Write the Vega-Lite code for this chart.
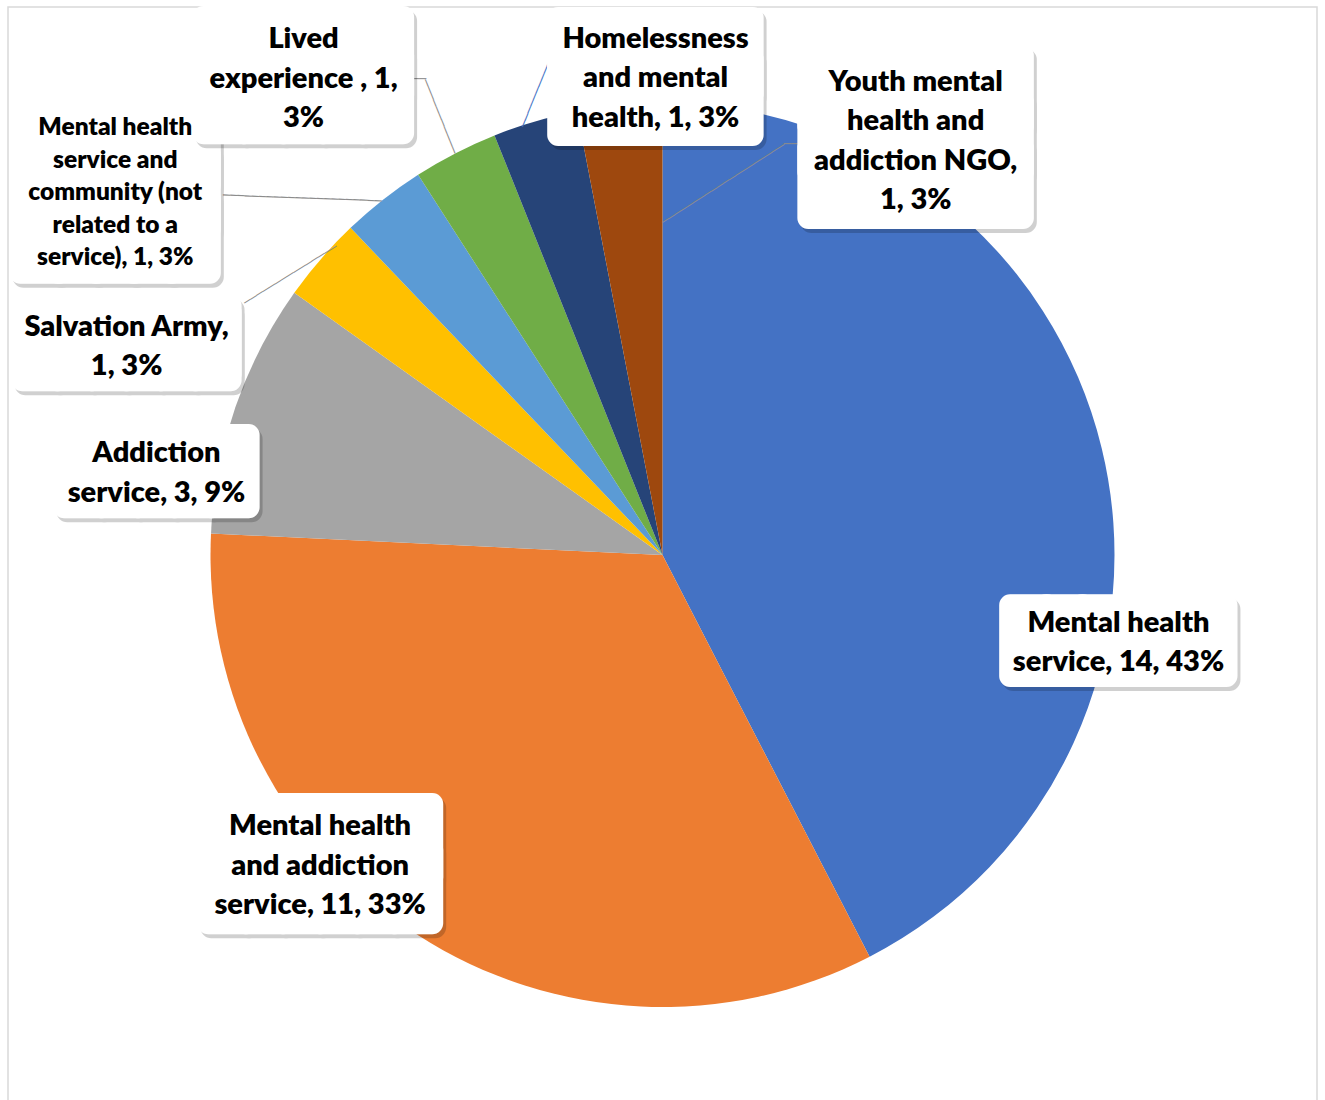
{
  "$schema": "https://vega.github.io/schema/vega-lite/v6.json",
  "width": 1309,
  "height": 1096,
  "autosize": {"type": "none"},
  "padding": {"left": 8, "top": 7, "right": 8, "bottom": 0},
  "background": "white",
  "view": {"stroke": "#d9d9d9", "strokeWidth": 1.5},
  "data": {
    "values": [
      {"rank": 1, "cat": "Mental health service", "count": 14, "pct": "43%", "label": "Mental health\nservice, 14, 43%"},
      {"rank": 2, "cat": "Mental health and addiction service", "count": 11, "pct": "33%", "label": "Mental health\nand addiction\nservice, 11, 33%"},
      {"rank": 3, "cat": "Addiction service", "count": 3, "pct": "9%", "label": "Addiction\nservice, 3, 9%"},
      {"rank": 4, "cat": "Salvation Army", "count": 1, "pct": "3%", "label": "Salvation Army,\n1, 3%"},
      {"rank": 5, "cat": "Mental health service and community (not related to a service)", "count": 1, "pct": "3%", "label": "Mental health\nservice and\ncommunity (not\nrelated to a\nservice), 1, 3%"},
      {"rank": 6, "cat": "Lived experience", "count": 1, "pct": "3%", "label": "Lived\nexperience , 1,\n3%"},
      {"rank": 7, "cat": "Homelessness and mental health", "count": 1, "pct": "3%", "label": "Homelessness\nand mental\nhealth, 1, 3%"},
      {"rank": 8, "cat": "Youth mental health and addiction NGO", "count": 1, "pct": "3%", "label": "Youth mental\nhealth and\naddiction NGO,\n1, 3%"}
    ]
  },
  "encoding": {
    "theta": {"field": "count", "type": "quantitative", "stack": true},
    "order": {"field": "rank", "type": "quantitative"}
  },
  "layer": [
    {
      "mark": {"type": "arc", "outerRadius": 452},
      "encoding": {
        "color": {
          "field": "cat", "type": "nominal", "legend": null,
          "scale": {
            "domain": ["Mental health service", "Mental health and addiction service", "Addiction service", "Salvation Army", "Mental health service and community (not related to a service)", "Lived experience", "Homelessness and mental health", "Youth mental health and addiction NGO"],
            "range": ["#4472C4", "#ED7D31", "#A5A5A5", "#FFC000", "#5B9BD5", "#70AD47", "#264478", "#9E480E"]
          }
        }
      }
    },
    {
      "mark": {"type": "text", "font": "DejaVu Sans Mono", "fontSize": 12, "radius": 376.5, "thetaOffset": 0.2578, "angle": -32.7, "fill": "#8c8c8c", "align": "center", "baseline": "middle"},
      "encoding": {"text": {"condition": {"test": "datum.rank === 8", "value": "\u2500\u2500\u2500\u2500\u2500\u2500\u2500\u2500\u2500\u2500\u2500\u2500\u2500\u2500\u2500\u2500\u2500\u2500\u2500\u2500"}, "value": ""}}
    },
    {
      "mark": {"type": "text", "font": "DejaVu Sans Mono", "fontSize": 12, "radius": 430.6, "thetaOffset": 0.3981, "fill": "#8c8c8c", "align": "center", "baseline": "middle"},
      "encoding": {"text": {"condition": {"test": "datum.rank === 8", "value": "\u2500\u2500"}, "value": ""}}
    },
    {
      "mark": {"type": "text", "font": "DejaVu Sans Mono", "fontSize": 12, "radius": 481.5, "thetaOffset": 0.0229, "angle": -67.8, "fill": "#4472C4", "align": "center", "baseline": "middle"},
      "encoding": {"text": {"condition": {"test": "datum.rank === 7", "value": "\u2500\u2500\u2500\u2500\u2500\u2500\u2500\u2500\u2500\u2500\u2500"}, "value": ""}}
    },
    {
      "mark": {"type": "text", "font": "DejaVu Sans Mono", "fontSize": 12, "radius": 491.7, "thetaOffset": 0.0065, "angle": 68.2, "fill": "#8c8c8c", "align": "center", "baseline": "middle"},
      "encoding": {"text": {"condition": {"test": "datum.rank === 6", "value": "\u2500\u2500\u2500\u2500\u2500\u2500\u2500\u2500\u2500\u2500\u2500"}, "value": ""}}
    },
    {
      "mark": {"type": "text", "font": "DejaVu Sans Mono", "fontSize": 12, "radius": 534.7, "thetaOffset": 0.0031, "fill": "#8c8c8c", "align": "center", "baseline": "middle"},
      "encoding": {"text": {"condition": {"test": "datum.rank === 6", "value": "\u2500\u2500"}, "value": ""}}
    },
    {
      "mark": {"type": "text", "font": "DejaVu Sans Mono", "fontSize": 12, "radius": 507, "thetaOffset": -0.1232, "angle": 2.1, "fill": "#8c8c8c", "align": "center", "baseline": "middle"},
      "encoding": {"text": {"condition": {"test": "datum.rank === 5", "value": "\u2500\u2500\u2500\u2500\u2500\u2500\u2500\u2500\u2500\u2500\u2500\u2500\u2500\u2500\u2500\u2500\u2500\u2500\u2500\u2500\u2500\u2500"}, "value": ""}}
    },
    {
      "mark": {"type": "text", "font": "DejaVu Sans Mono", "fontSize": 12, "radius": 465.9, "thetaOffset": -0.0679, "angle": -31.8, "fill": "#8c8c8c", "align": "center", "baseline": "middle"},
      "encoding": {"text": {"condition": {"test": "datum.rank === 4", "value": "\u2500\u2500\u2500\u2500\u2500\u2500\u2500\u2500\u2500\u2500\u2500\u2500\u2500\u2500\u2500"}, "value": ""}}
    },
    {
      "mark": {"type": "text", "font": "DejaVu Sans Mono", "fontSize": 59.5, "radius": 463.9, "thetaOffset": 0.423, "fill": "black", "stroke": "black", "opacity": 0.18, "strokeWidth": 22, "strokeJoin": "round", "align": "center", "baseline": "middle", "dx": 3, "dy": 7, "lineBreak": "\n"},
      "encoding": {"text": {"condition": {"test": "datum.rank === 1", "value": "\u2588\u2588\u2588\u2588\u2588\u2588"}, "value": ""}}
    },
    {
      "mark": {"type": "text", "font": "DejaVu Sans Mono", "fontSize": 59.5, "radius": 463.9, "thetaOffset": 0.423, "fill": "white", "stroke": "white", "strokeWidth": 22, "strokeJoin": "round", "align": "center", "baseline": "middle", "dy": 3, "lineBreak": "\n"},
      "encoding": {"text": {"condition": {"test": "datum.rank === 1", "value": "\u2588\u2588\u2588\u2588\u2588\u2588"}, "value": ""}}
    },
    {
      "mark": {"type": "text", "font": "Lato", "fontWeight": 800, "fontSize": 29, "lineHeight": 39.5, "lineBreak": "\n", "radius": 463.9, "thetaOffset": 0.423, "align": "center", "baseline": "middle", "dy": -17.75, "fill": "#000000"},
      "encoding": {"text": {"condition": {"test": "datum.rank === 1", "field": "label"}, "value": ""}}
    },
    {
      "mark": {"type": "text", "font": "DejaVu Sans Mono", "fontSize": 61.7, "lineHeight": 46.1, "radius": 460.6, "thetaOffset": 0.267, "fill": "black", "stroke": "black", "opacity": 0.18, "strokeWidth": 22, "strokeJoin": "round", "align": "center", "baseline": "middle", "dx": 3, "dy": -16, "lineBreak": "\n"},
      "encoding": {"text": {"condition": {"test": "datum.rank === 2", "value": "\u2588\u2588\u2588\u2588\u2588\u2588\n\u2588\u2588\u2588\u2588\u2588\u2588"}, "value": ""}}
    },
    {
      "mark": {"type": "text", "font": "DejaVu Sans Mono", "fontSize": 61.7, "lineHeight": 46.1, "radius": 460.6, "thetaOffset": 0.267, "fill": "white", "stroke": "white", "strokeWidth": 22, "strokeJoin": "round", "align": "center", "baseline": "middle", "dy": -20, "lineBreak": "\n"},
      "encoding": {"text": {"condition": {"test": "datum.rank === 2", "value": "\u2588\u2588\u2588\u2588\u2588\u2588\n\u2588\u2588\u2588\u2588\u2588\u2588"}, "value": ""}}
    },
    {
      "mark": {"type": "text", "font": "Lato", "fontWeight": 800, "fontSize": 29, "lineHeight": 39.5, "lineBreak": "\n", "radius": 460.6, "thetaOffset": 0.267, "align": "center", "baseline": "middle", "dy": -37, "fill": "#000000"},
      "encoding": {"text": {"condition": {"test": "datum.rank === 2", "field": "label"}, "value": ""}}
    },
    {
      "mark": {"type": "text", "font": "DejaVu Sans Mono", "fontSize": 60.8, "radius": 512.9, "thetaOffset": -0.169, "fill": "black", "stroke": "black", "opacity": 0.18, "strokeWidth": 22, "strokeJoin": "round", "align": "center", "baseline": "middle", "dx": 3, "dy": 7, "lineBreak": "\n"},
      "encoding": {"text": {"condition": {"test": "datum.rank === 3", "value": "\u2588\u2588\u2588\u2588\u2588"}, "value": ""}}
    },
    {
      "mark": {"type": "text", "font": "DejaVu Sans Mono", "fontSize": 60.8, "radius": 512.9, "thetaOffset": -0.169, "fill": "white", "stroke": "white", "strokeWidth": 22, "strokeJoin": "round", "align": "center", "baseline": "middle", "dy": 3, "lineBreak": "\n"},
      "encoding": {"text": {"condition": {"test": "datum.rank === 3", "value": "\u2588\u2588\u2588\u2588\u2588"}, "value": ""}}
    },
    {
      "mark": {"type": "text", "font": "Lato", "fontWeight": 800, "fontSize": 29, "lineHeight": 39.5, "lineBreak": "\n", "radius": 512.9, "thetaOffset": -0.169, "align": "center", "baseline": "middle", "dy": -17.75, "fill": "#000000"},
      "encoding": {"text": {"condition": {"test": "datum.rank === 3", "field": "label"}, "value": ""}}
    },
    {
      "mark": {"type": "text", "font": "DejaVu Sans Mono", "fontSize": 57.3, "lineHeight": 6.3, "radius": 575.7, "thetaOffset": -0.34, "fill": "black", "stroke": "black", "opacity": 0.18, "strokeWidth": 22, "strokeJoin": "round", "align": "center", "baseline": "middle", "dx": 3, "dy": 2, "lineBreak": "\n"},
      "encoding": {"text": {"condition": {"test": "datum.rank === 4", "value": "\u2588\u2588\u2588\u2588\u2588\u2588\n\u2588\u2588\u2588\u2588\u2588\u2588"}, "value": ""}}
    },
    {
      "mark": {"type": "text", "font": "DejaVu Sans Mono", "fontSize": 57.3, "lineHeight": 6.3, "radius": 575.7, "thetaOffset": -0.34, "fill": "white", "stroke": "white", "strokeWidth": 22, "strokeJoin": "round", "align": "center", "baseline": "middle", "dy": -2, "lineBreak": "\n"},
      "encoding": {"text": {"condition": {"test": "datum.rank === 4", "value": "\u2588\u2588\u2588\u2588\u2588\u2588\n\u2588\u2588\u2588\u2588\u2588\u2588"}, "value": ""}}
    },
    {
      "mark": {"type": "text", "font": "Lato", "fontWeight": 800, "fontSize": 29, "lineHeight": 39.5, "lineBreak": "\n", "radius": 575.7, "thetaOffset": -0.34, "align": "center", "baseline": "middle", "dy": -17.75, "fill": "#000000"},
      "encoding": {"text": {"condition": {"test": "datum.rank === 4", "field": "label"}, "value": ""}}
    },
    {
      "mark": {"type": "text", "font": "DejaVu Sans Mono", "fontSize": 62.5, "lineHeight": 44, "radius": 657, "thetaOffset": -0.318, "fill": "black", "stroke": "black", "opacity": 0.18, "strokeWidth": 22, "strokeJoin": "round", "align": "center", "baseline": "middle", "dx": 3, "dy": -37, "lineBreak": "\n"},
      "encoding": {"text": {"condition": {"test": "datum.rank === 5", "value": "\u2588\u2588\u2588\u2588\u2588\n\u2588\u2588\u2588\u2588\u2588\n\u2588\u2588\u2588\u2588\u2588"}, "value": ""}}
    },
    {
      "mark": {"type": "text", "font": "DejaVu Sans Mono", "fontSize": 62.5, "lineHeight": 44, "radius": 657, "thetaOffset": -0.318, "fill": "white", "stroke": "white", "strokeWidth": 22, "strokeJoin": "round", "align": "center", "baseline": "middle", "dy": -41, "lineBreak": "\n"},
      "encoding": {"text": {"condition": {"test": "datum.rank === 5", "value": "\u2588\u2588\u2588\u2588\u2588\n\u2588\u2588\u2588\u2588\u2588\n\u2588\u2588\u2588\u2588\u2588"}, "value": ""}}
    },
    {
      "mark": {"type": "text", "font": "Lato", "fontWeight": 800, "fontSize": 24.5, "lineHeight": 32.5, "lineBreak": "\n", "radius": 657, "thetaOffset": -0.318, "align": "center", "baseline": "middle", "dy": -63, "fill": "#000000"},
      "encoding": {"text": {"condition": {"test": "datum.rank === 5", "field": "label"}, "value": ""}}
    },
    {
      "mark": {"type": "text", "font": "DejaVu Sans Mono", "fontSize": 65.8, "lineHeight": 37.4, "radius": 597.8, "thetaOffset": -0.168, "fill": "black", "stroke": "black", "opacity": 0.18, "strokeWidth": 22, "strokeJoin": "round", "align": "center", "baseline": "middle", "dx": 3, "dy": -13.7, "lineBreak": "\n"},
      "encoding": {"text": {"condition": {"test": "datum.rank === 6", "value": "\u2588\u2588\u2588\u2588\u2588\n\u2588\u2588\u2588\u2588\u2588"}, "value": ""}}
    },
    {
      "mark": {"type": "text", "font": "DejaVu Sans Mono", "fontSize": 65.8, "lineHeight": 37.4, "radius": 597.8, "thetaOffset": -0.168, "fill": "white", "stroke": "white", "strokeWidth": 22, "strokeJoin": "round", "align": "center", "baseline": "middle", "dy": -17.7, "lineBreak": "\n"},
      "encoding": {"text": {"condition": {"test": "datum.rank === 6", "value": "\u2588\u2588\u2588\u2588\u2588\n\u2588\u2588\u2588\u2588\u2588"}, "value": ""}}
    },
    {
      "mark": {"type": "text", "font": "Lato", "fontWeight": 800, "fontSize": 29, "lineHeight": 39.5, "lineBreak": "\n", "radius": 597.8, "thetaOffset": -0.168, "align": "center", "baseline": "middle", "dy": -37.5, "fill": "#000000"},
      "encoding": {"text": {"condition": {"test": "datum.rank === 6", "field": "label"}, "value": ""}}
    },
    {
      "mark": {"type": "text", "font": "DejaVu Sans Mono", "fontSize": 64.1, "lineHeight": 40.4, "radius": 478.6, "thetaOffset": 0.271, "fill": "black", "stroke": "black", "opacity": 0.18, "strokeWidth": 22, "strokeJoin": "round", "align": "center", "baseline": "middle", "dx": 3, "dy": -13.2, "lineBreak": "\n"},
      "encoding": {"text": {"condition": {"test": "datum.rank === 7", "value": "\u2588\u2588\u2588\u2588\u2588\n\u2588\u2588\u2588\u2588\u2588"}, "value": ""}}
    },
    {
      "mark": {"type": "text", "font": "DejaVu Sans Mono", "fontSize": 64.1, "lineHeight": 40.4, "radius": 478.6, "thetaOffset": 0.271, "fill": "white", "stroke": "white", "strokeWidth": 22, "strokeJoin": "round", "align": "center", "baseline": "middle", "dy": -17.2, "lineBreak": "\n"},
      "encoding": {"text": {"condition": {"test": "datum.rank === 7", "value": "\u2588\u2588\u2588\u2588\u2588\n\u2588\u2588\u2588\u2588\u2588"}, "value": ""}}
    },
    {
      "mark": {"type": "text", "font": "Lato", "fontWeight": 800, "fontSize": 29, "lineHeight": 39.5, "lineBreak": "\n", "radius": 478.6, "thetaOffset": 0.271, "align": "center", "baseline": "middle", "dy": -37.5, "fill": "#000000"},
      "encoding": {"text": {"condition": {"test": "datum.rank === 7", "field": "label"}, "value": ""}}
    },
    {
      "mark": {"type": "text", "font": "DejaVu Sans Mono", "fontSize": 59, "lineHeight": 46.2, "radius": 486.9, "thetaOffset": 0.642, "fill": "black", "stroke": "black", "opacity": 0.18, "strokeWidth": 22, "strokeJoin": "round", "align": "center", "baseline": "middle", "dx": 3, "dy": -42.2, "lineBreak": "\n"},
      "encoding": {"text": {"condition": {"test": "datum.rank === 8", "value": "\u2588\u2588\u2588\u2588\u2588\u2588\n\u2588\u2588\u2588\u2588\u2588\u2588\n\u2588\u2588\u2588\u2588\u2588\u2588"}, "value": ""}}
    },
    {
      "mark": {"type": "text", "font": "DejaVu Sans Mono", "fontSize": 59, "lineHeight": 46.2, "radius": 486.9, "thetaOffset": 0.642, "fill": "white", "stroke": "white", "strokeWidth": 22, "strokeJoin": "round", "align": "center", "baseline": "middle", "dy": -46.2, "lineBreak": "\n"},
      "encoding": {"text": {"condition": {"test": "datum.rank === 8", "value": "\u2588\u2588\u2588\u2588\u2588\u2588\n\u2588\u2588\u2588\u2588\u2588\u2588\n\u2588\u2588\u2588\u2588\u2588\u2588"}, "value": ""}}
    },
    {
      "mark": {"type": "text", "font": "Lato", "fontWeight": 800, "fontSize": 29, "lineHeight": 39.5, "lineBreak": "\n", "radius": 486.9, "thetaOffset": 0.642, "align": "center", "baseline": "middle", "dy": -57.25, "fill": "#000000"},
      "encoding": {"text": {"condition": {"test": "datum.rank === 8", "field": "label"}, "value": ""}}
    }
  ]
}
